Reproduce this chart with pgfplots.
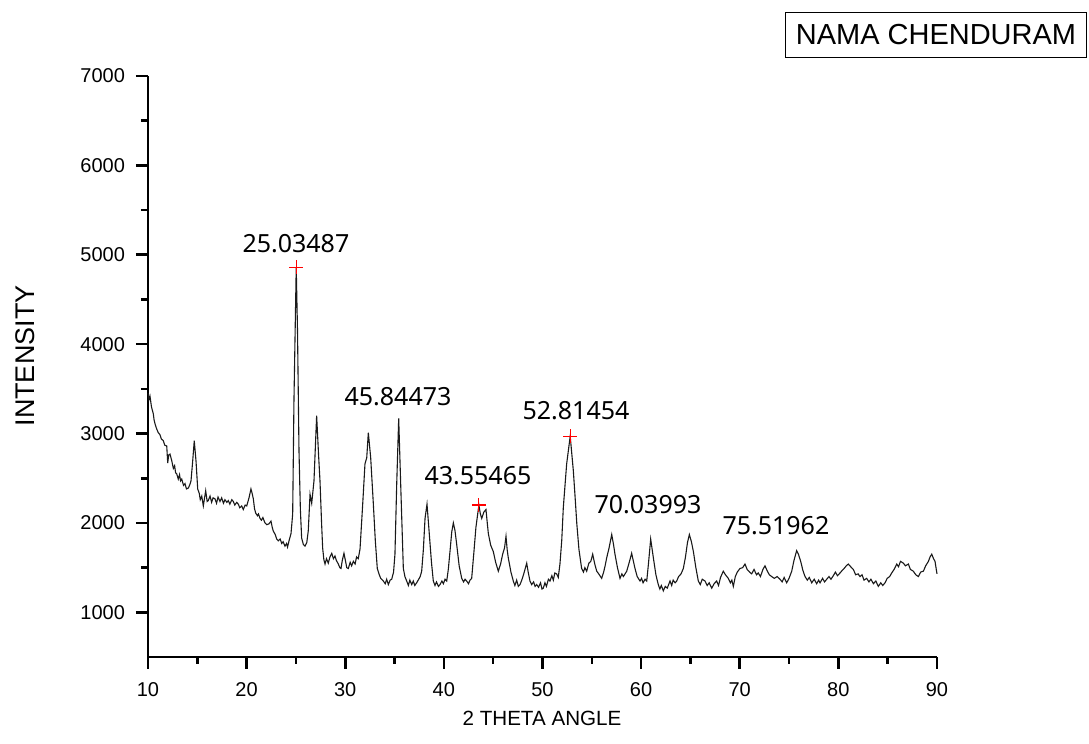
\documentclass[border=0pt]{standalone}
\usepackage{fontspec}
\setmainfont{Liberation Sans}
\newfontfamily\annfont{Noto Sans}
\usepackage{pgfplots}
\pgfplotsset{compat=1.18}

\begin{document}
\begin{tikzpicture}
  \begin{axis}[
      at={(0,0)}, anchor=south west,
      scale only axis,
      width=394.5bp, height=290.5bp,
      xmin=10, xmax=90,
      ymin=500, ymax=7000,
      xtick={10,20,...,90},
      ytick={1000,2000,...,7000},
      minor x tick num=1,
      minor y tick num=1,
      axis x line*=bottom,
      axis y line*=left,
      tick align=outside,
      major tick length=6bp,
      minor tick length=3.5bp,
      axis line style={line width=1.3bp},
      every tick/.append style={black, line width=1.3bp},
      major tick style={black, line width=1.3bp},
      minor tick style={black, line width=1.3bp},
      tick label style={font=\fontsize{10bp}{12bp}\selectfont},
      yticklabel style={xshift=-2bp},
      xticklabel style={yshift=-3bp},
      /pgf/number format/assume math mode=true,
      /pgf/number format/1000 sep={},
      clip=false,
    ]
    \addplot[black!90, line width=0.55bp] coordinates {
(10.00,3450) (10.10,3380) (10.20,3420) (10.35,3300) (10.54,3220) (10.62,3150)
(10.71,3110) (10.85,3060) (11.04,3010) (11.20,2990) (11.35,2940) (11.55,2920)
(11.70,2870) (11.90,2860) (12.00,2670) (12.10,2760) (12.23,2770) (12.40,2700)
(12.57,2610) (12.70,2640) (12.80,2560) (12.91,2550) (13.07,2490) (13.20,2540)
(13.30,2470) (13.42,2490) (13.60,2420) (13.75,2440) (13.90,2380) (14.09,2390)
(14.25,2430) (14.36,2470) (14.53,2690) (14.69,2920) (14.87,2690) (15.04,2380)
(15.20,2330) (15.30,2260) (15.45,2300) (15.61,2190) (15.75,2290) (15.85,2360)
(16.00,2240) (16.11,2250) (16.29,2300) (16.45,2230) (16.60,2280) (16.79,2270)
(16.95,2220) (17.10,2290) (17.30,2240) (17.47,2280) (17.65,2220) (17.80,2260)
(18.00,2230) (18.14,2250) (18.30,2210) (18.50,2260) (18.65,2240) (18.80,2200)
(19.00,2230) (19.16,2210) (19.30,2170) (19.50,2190) (19.66,2150) (19.85,2200)
(20.01,2190) (20.24,2280) (20.44,2380) (20.56,2330) (20.68,2270) (20.80,2160)
(20.92,2110) (21.10,2080) (21.20,2100) (21.36,2050) (21.50,2030) (21.65,2060)
(21.86,2000) (22.05,1980) (22.27,1990) (22.47,2020) (22.60,1950) (22.70,1910)
(22.90,1870) (23.05,1820) (23.21,1800) (23.40,1820) (23.56,1770) (23.70,1790)
(23.89,1740) (24.05,1770) (24.15,1730) (24.30,1800) (24.50,1880) (24.67,2100)
(24.80,3370) (25.03,4860) (25.16,4150) (25.31,2810) (25.45,2150) (25.58,1830)
(25.75,1760) (25.92,1740) (26.10,1780) (26.25,1910) (26.43,2320) (26.60,2220)
(26.83,2470) (27.10,3200) (27.30,2750) (27.44,2470) (27.60,2000) (27.71,1720)
(27.83,1590) (27.95,1540) (28.10,1600) (28.28,1550) (28.45,1620) (28.63,1660)
(28.80,1600) (28.96,1630) (29.10,1580) (29.30,1540) (29.45,1500) (29.57,1490)
(29.70,1580) (29.87,1660) (30.05,1560) (30.15,1500) (30.31,1490) (30.50,1560)
(30.65,1520) (30.82,1570) (31.00,1540) (31.15,1620) (31.32,1600) (31.50,1710)
(31.77,2210) (32.00,2660) (32.18,2730) (32.34,3010) (32.58,2730) (32.85,2210)
(33.05,1800) (33.25,1490) (33.45,1420) (33.60,1380) (33.86,1350) (34.05,1320)
(34.20,1370) (34.37,1310) (34.55,1360) (34.71,1370) (34.90,1450) (35.04,1650)
(35.22,2440) (35.42,3170) (35.62,2440) (35.89,1490) (36.05,1400) (36.23,1350)
(36.40,1300) (36.55,1360) (36.74,1310) (36.90,1350) (37.05,1300) (37.24,1330)
(37.45,1370) (37.60,1400) (37.75,1460) (37.92,1700) (38.09,2050) (38.29,2210)
(38.52,1880) (38.75,1550) (38.93,1350) (39.10,1300) (39.25,1340) (39.45,1290)
(39.61,1310) (39.80,1350) (39.95,1320) (40.12,1370) (40.29,1350) (40.45,1480)
(40.62,1680) (40.80,1900) (40.96,2000) (41.12,1920) (41.30,1760) (41.55,1520)
(41.81,1380) (42.00,1340) (42.15,1370) (42.31,1350) (42.50,1320) (42.65,1360)
(42.82,1380) (43.05,1680) (43.25,1950) (43.55,2200) (43.70,2100) (43.84,2050)
(44.05,2120) (44.27,2150) (44.40,2000) (44.51,1880) (44.75,1750) (45.01,1680)
(45.25,1560) (45.52,1460) (45.75,1540) (45.96,1650) (46.15,1720) (46.30,1850)
(46.42,1700) (46.53,1610) (46.80,1450) (47.04,1350) (47.20,1300) (47.38,1360)
(47.55,1290) (47.72,1310) (47.90,1360) (48.10,1430) (48.40,1550) (48.55,1450)
(48.73,1350) (48.90,1310) (49.10,1340) (49.25,1290) (49.41,1310) (49.60,1280)
(49.80,1330) (49.95,1260) (50.08,1270) (50.25,1330) (50.40,1290) (50.60,1370)
(50.76,1350) (50.95,1410) (51.10,1360) (51.25,1440) (51.44,1430) (51.60,1390)
(51.77,1540) (51.95,1800) (52.11,2170) (52.45,2660) (52.81,2970) (53.13,2580)
(53.30,2300) (53.48,1990) (53.70,1700) (53.97,1490) (54.15,1450) (54.30,1500)
(54.48,1460) (54.70,1550) (54.90,1570) (55.09,1650) (55.30,1540) (55.50,1460)
(55.70,1430) (56.00,1380) (56.20,1450) (56.35,1520) (56.51,1610) (56.75,1720)
(57.02,1870) (57.20,1760) (57.35,1650) (57.60,1500) (57.86,1380) (58.05,1430)
(58.20,1400) (58.54,1460) (58.80,1560) (59.04,1660) (59.20,1580) (59.38,1490)
(59.60,1400) (59.89,1350) (60.05,1380) (60.20,1330) (60.40,1370) (60.57,1350)
(60.75,1550) (60.97,1820) (61.10,1720) (61.24,1610) (61.50,1420) (61.74,1310)
(61.90,1260) (62.05,1300) (62.25,1240) (62.45,1290) (62.65,1270) (62.93,1350)
(63.10,1300) (63.25,1360) (63.45,1330) (63.61,1350) (63.80,1400) (64.05,1430)
(64.28,1490) (64.50,1620) (64.70,1780) (64.89,1870) (65.10,1790) (65.30,1680)
(65.55,1500) (65.80,1350) (66.00,1310) (66.20,1370) (66.48,1350) (66.70,1300)
(66.90,1330) (67.16,1270) (67.40,1320) (67.66,1350) (67.85,1300) (68.05,1390)
(68.33,1460) (68.55,1420) (68.84,1380) (69.05,1330) (69.20,1360) (69.35,1290)
(69.55,1400) (69.75,1450) (70.02,1490) (70.30,1500) (70.53,1540) (70.75,1480)
(71.00,1450) (71.21,1430) (71.45,1480) (71.70,1420) (71.88,1440) (72.10,1400)
(72.35,1480) (72.56,1520) (72.80,1460) (73.00,1420) (73.24,1400) (73.50,1380)
(73.80,1400) (74.08,1370) (74.30,1340) (74.50,1390) (74.76,1330) (75.00,1380)
(75.27,1460) (75.50,1580) (75.77,1690) (75.95,1650) (76.18,1570) (76.40,1470)
(76.62,1400) (76.85,1360) (77.05,1390) (77.30,1330) (77.55,1370) (77.80,1320)
(78.00,1360) (78.14,1330) (78.40,1380) (78.60,1340) (78.82,1370) (79.05,1400)
(79.25,1370) (79.49,1410) (79.70,1450) (79.90,1410) (80.17,1440) (80.40,1470)
(80.58,1490) (80.80,1520) (81.01,1540) (81.25,1510) (81.52,1480) (81.75,1420)
(82.00,1430) (82.19,1400) (82.40,1420) (82.60,1360) (82.87,1380) (83.10,1340)
(83.30,1370) (83.55,1320) (83.80,1350) (84.05,1290) (84.30,1330) (84.50,1300)
(84.73,1330) (84.95,1380) (85.20,1400) (85.41,1440) (85.65,1480) (85.92,1540)
(86.10,1510) (86.30,1570) (86.59,1550) (86.80,1520) (87.10,1540) (87.30,1480)
(87.60,1460) (87.85,1420) (88.11,1400) (88.35,1450) (88.62,1460) (88.85,1520)
(89.13,1570) (89.30,1620) (89.47,1650) (89.65,1600) (89.80,1570) (90.00,1430)
    };
    % picked peaks
    \addplot[only marks, mark=+, red, mark size=3.5bp, line width=0.6bp]
      coordinates {(25.03,4860) (43.55,2200) (52.81,2970)};
    \begin{scope}[every node/.style={font=\annfont\fontsize{12.5bp}{14bp}\selectfont}]
      \node at (axis cs:25.0,5130) {25.03487};
      \node at (axis cs:35.35,3410) {45.84473};
      \node at (axis cs:43.46,2525) {43.55465};
      \node at (axis cs:53.4,3255) {52.81454};
      \node at (axis cs:60.7,2210) {70.03993};
      \node at (axis cs:73.67,1965) {75.51962};
    \end{scope}
  \end{axis}
  \node[font=\fontsize{10.3bp}{12bp}\selectfont] at (197bp,-30.5bp) {2 THETA ANGLE};
  \node[font=\fontsize{13.5bp}{15bp}\selectfont, rotate=90] at (-61.5bp,150.5bp) {INTENSITY};
  \node[draw, line width=0.6bp, minimum width=150.5bp, minimum height=22.5bp,
        font=\fontsize{14.5bp}{16bp}\selectfont] at (394bp,311bp) {NAMA CHENDURAM};
  \pgfresetboundingbox
  \path (-74bp,-43.5bp) rectangle (470.5bp,328.5bp);
\end{tikzpicture}
\end{document}
